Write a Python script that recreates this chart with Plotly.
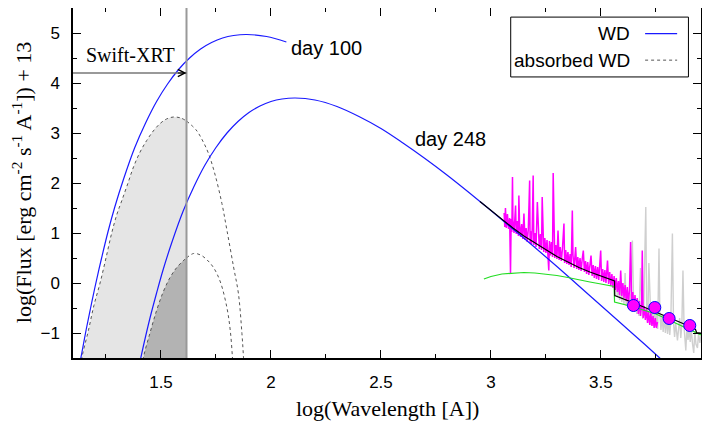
import plotly.graph_objects as go

# --- white dwarf blackbody curves (log lambda, log flux + 13) ---
wd100_x = [1.12, 1.14, 1.16, 1.18, 1.20, 1.23, 1.26, 1.29, 1.33, 1.38, 1.43, 1.48,
           1.53, 1.58, 1.63, 1.68, 1.73, 1.78, 1.83, 1.89, 1.98, 2.07]
wd100_y = [-1.85, -1.40, -0.93, -0.50, -0.08, 0.50, 1.04, 1.52, 2.08, 2.70, 3.20, 3.63,
           3.98, 4.27, 4.50, 4.68, 4.81, 4.90, 4.95, 4.97, 4.93, 4.82]

wd248_x = [1.39, 1.40, 1.42, 1.45, 1.48, 1.51, 1.55, 1.60, 1.65, 1.70, 1.75, 1.80,
           1.85, 1.90, 1.95, 2.00, 2.05, 2.11, 2.20, 2.30, 2.40, 2.50, 2.60, 2.70,
           2.80, 2.90, 3.00, 3.10, 3.20, 3.30, 3.40, 3.50, 3.60, 3.70, 3.76, 3.80]
wd248_y = [-1.87, -1.66, -1.26, -0.70, -0.20, 0.27, 0.82, 1.43, 1.93, 2.36, 2.71, 3.00,
           3.23, 3.41, 3.54, 3.63, 3.68, 3.70, 3.66, 3.53, 3.33, 3.09, 2.80, 2.49,
           2.16, 1.81, 1.45, 1.08, 0.71, 0.33, -0.06, -0.45, -0.84, -1.23, -1.47, -1.63]

# absorbed WD (dotted), split at the Swift-XRT edge for the shading
abs100_x = [1.128, 1.14, 1.17, 1.195, 1.223, 1.25, 1.276, 1.30, 1.322, 1.35, 1.375,
            1.405, 1.435, 1.465, 1.496, 1.525, 1.557, 1.59, 1.616]
abs100_y = [-1.9, -1.5, -0.95, -0.45, 0.0, 0.5, 1.0, 1.38, 1.65, 2.0, 2.32,
            2.62, 2.85, 3.04, 3.19, 3.28, 3.32, 3.30, 3.24]
abs100_tail_x = [1.616, 1.66, 1.69, 1.716, 1.745, 1.777, 1.80, 1.83, 1.852, 1.868, 1.875, 1.88]
abs100_tail_y = [3.24, 3.06, 2.84, 2.59, 2.18, 1.59, 1.05, 0.32, -0.21, -1.01, -1.48, -1.9]

abs248_x = [1.41, 1.42, 1.45, 1.48, 1.51, 1.54, 1.57, 1.60, 1.616]
abs248_y = [-1.9, -1.5, -1.0, -0.55, -0.18, 0.10, 0.30, 0.44, 0.50]
abs248_tail_x = [1.616, 1.648, 1.68, 1.71, 1.74, 1.77, 1.80, 1.815, 1.825, 1.83]
abs248_tail_y = [0.50, 0.59, 0.56, 0.46, 0.30, 0.02, -0.50, -0.95, -1.50, -1.9]

FLOOR = -1.9
XRT_EDGE = 1.616
ARROW_Y = 4.20

# --- optical model (black) and second component (green) ---
model_x = [2.95, 3.0, 3.05, 3.1, 3.15, 3.2, 3.25, 3.3, 3.35, 3.4, 3.45, 3.5, 3.562,
           3.563, 3.6, 3.65, 3.7, 3.75, 3.8, 3.85, 3.9, 3.93, 3.935, 3.955]
model_y = [1.63, 1.45, 1.27, 1.10, 0.94, 0.80, 0.66, 0.53, 0.42, 0.31, 0.22, 0.14, 0.04,
           -0.25, -0.31, -0.40, -0.49, -0.58, -0.67, -0.76, -0.86, -0.93, -0.99, -1.0]

green_x = [2.968, 3.0, 3.05, 3.1, 3.15, 3.2, 3.25, 3.3, 3.35, 3.4, 3.45, 3.5, 3.56,
           3.562, 3.6, 3.65, 3.7, 3.75, 3.8, 3.85, 3.9, 3.955]
green_y = [0.08, 0.13, 0.18, 0.20, 0.21, 0.20, 0.18, 0.15, 0.11, 0.06, 0.02, -0.02, -0.07,
           -0.38, -0.42, -0.48, -0.55, -0.62, -0.72, -0.82, -0.93, -1.04]

# --- observed spectra ---
mag_x = [3.060, 3.063, 3.066, 3.070, 3.075, 3.080, 3.085, 3.089, 3.092, 3.095, 3.098, 3.100,
         3.105, 3.110, 3.112, 3.115, 3.120, 3.125, 3.127, 3.130, 3.135, 3.140, 3.145, 3.150,
         3.152, 3.155, 3.160, 3.165, 3.170, 3.176, 3.178, 3.180, 3.185, 3.188, 3.192, 3.195,
         3.200, 3.205, 3.211, 3.215, 3.220, 3.225, 3.230, 3.233, 3.236, 3.240, 3.245, 3.250,
         3.255, 3.260, 3.263, 3.266, 3.270, 3.275, 3.280, 3.283, 3.286, 3.290, 3.295, 3.300,
         3.305, 3.310, 3.315, 3.320, 3.325, 3.332, 3.335, 3.340, 3.345, 3.350, 3.355, 3.360,
         3.365, 3.370, 3.373, 3.378, 3.385, 3.390, 3.395, 3.400, 3.405, 3.410, 3.415, 3.420,
         3.425, 3.430, 3.435, 3.440, 3.445, 3.450, 3.455, 3.460, 3.465, 3.470, 3.475, 3.480,
         3.485, 3.490, 3.495, 3.499, 3.503, 3.508, 3.513, 3.518, 3.523, 3.530, 3.535, 3.540,
         3.545, 3.550, 3.555, 3.560, 3.565, 3.570, 3.575, 3.580, 3.585, 3.590, 3.595, 3.600,
         3.605, 3.610, 3.615, 3.620, 3.625, 3.630, 3.635, 3.640, 3.645, 3.650, 3.655, 3.660,
         3.665, 3.670, 3.675, 3.680, 3.685, 3.688, 3.692, 3.697, 3.702, 3.707, 3.712, 3.717,
         3.722, 3.727, 3.732, 3.737, 3.742, 3.747, 3.752, 3.757]
mag_y = [1.40, 1.12, 1.50, 1.10, 1.38, 1.08, 1.30, 0.19, 1.28, 1.02, 2.12, 1.26,
         1.00, 1.28, 1.55, 0.98, 1.24, 0.94, 1.75, 1.20, 0.92, 1.18, 0.88, 1.39,
         1.12, 0.86, 1.10, 0.82, 1.08, 2.05, 0.80, 1.04, 0.78, 1.12, 2.15, 0.76,
         1.00, 0.72, 1.62, 0.96, 0.68, 0.98, 0.66, 1.72, 0.92, 0.62, 0.90, 0.60,
         0.86, 0.58, 0.25, 0.84, 0.55, 0.82, 0.52, 2.20, 0.78, 0.50, 0.76, 0.48,
         1.05, 0.46, 0.72, 0.44, 0.68, 1.19, 0.40, 0.66, 0.38, 0.62, 0.36, 0.58,
         0.32, 1.45, 0.56, 0.30, 0.72, 0.28, 0.52, 0.26, 0.50, 0.24, 0.48, 0.65,
         0.22, 0.44, 0.18, 0.42, 0.16, 0.40, 0.55, 0.14, 0.36, 0.10, 0.34, 0.08,
         0.32, 0.06, 0.30, 0.65, 0.04, 0.28, 0.02, 0.26, 0.00, 0.45, -0.02, 0.22,
         -0.06, 0.18, -0.10, 0.14, -0.14, 0.10, -0.18, 0.04, -0.24, 0.25, -0.26, 0.00,
         -0.30, -0.04, -0.36, -0.08, -0.40, -0.14, 0.82, -0.44, -0.18, -0.50, -0.24, -0.56,
         -0.30, -0.62, -0.36, -0.66, -0.42, 0.65, -0.70, -0.46, -0.74, -0.52, -0.80, -0.56,
         -0.84, -0.60, -0.86, -0.66, -0.90, -0.70, -0.90, -0.78]

grey_x = [3.570, 3.575, 3.580, 3.585, 3.590, 3.595, 3.600, 3.605, 3.610, 3.615, 3.620, 3.625,
          3.630, 3.635, 3.643, 3.648, 3.653, 3.658, 3.663, 3.668, 3.673, 3.680, 3.685, 3.690,
          3.695, 3.704, 3.708, 3.713, 3.718, 3.723, 3.728, 3.733, 3.738, 3.743, 3.748, 3.753,
          3.758, 3.764, 3.768, 3.773, 3.778, 3.783, 3.788, 3.793, 3.798, 3.803, 3.808, 3.813,
          3.818, 3.825, 3.830, 3.835, 3.840, 3.848, 3.853, 3.858, 3.863, 3.868, 3.873, 3.878,
          3.886, 3.891, 3.896, 3.901, 3.906, 3.911, 3.916, 3.922, 3.927, 3.932, 3.939, 3.944,
          3.950, 3.955]
grey_y = [0.00, -0.28, -0.04, -0.34, -0.08, -0.38, -0.14, -0.42, 0.20, -0.46, -0.18, -0.50,
          -0.22, -0.54, 0.85, -0.26, -0.58, -0.30, -0.62, -0.34, -0.66, 0.30, -0.40, -0.72,
          -0.44, 1.52, -0.48, -0.80, 0.40, -0.50, -0.84, -0.54, -0.86, -0.56, -0.88, -0.58,
          -0.92, 0.69, -0.62, -0.94, -0.64, -0.98, -0.66, -1.00, -0.70, -1.02, -0.72, -1.04,
          -0.74, 0.99, -0.78, -1.08, -0.80, -1.15, -0.82, -0.70, -1.10, -0.84, 0.25, -0.88,
          -1.35, -0.88, -1.14, -0.90, -1.18, -0.92, -1.20, -1.40, -0.96, -1.22, -1.30, -1.00,
          -1.20, -1.05]

phot_x = [3.648, 3.745, 3.810, 3.904]
phot_y = [-0.45, -0.49, -0.71, -0.85]

SANS = "Liberation Sans, Arial, sans-serif"
SERIF = "Liberation Serif, Times New Roman, serif"
BLUE = "#1a1aff"

fig = go.Figure()

# shaded Swift-XRT band under the absorbed curves
fig.add_trace(go.Scatter(x=[abs100_x[0], XRT_EDGE], y=[FLOOR, FLOOR], mode="lines",
                         line=dict(width=0), hoverinfo="skip", showlegend=False))
fig.add_trace(go.Scatter(x=abs100_x, y=abs100_y, mode="lines", fill="tonexty",
                         fillcolor="#e5e5e5", line=dict(width=0, shape="spline"),
                         showlegend=False))
fig.add_trace(go.Scatter(x=[abs248_x[0], XRT_EDGE], y=[FLOOR, FLOOR], mode="lines",
                         line=dict(width=0), hoverinfo="skip", showlegend=False))
fig.add_trace(go.Scatter(x=abs248_x, y=abs248_y, mode="lines", fill="tonexty",
                         fillcolor="#b3b3b3", line=dict(width=0, shape="spline"),
                         showlegend=False))

# absorbed WD dotted curves
for xs, ys in [(abs100_x, abs100_y), (abs100_tail_x, abs100_tail_y),
               (abs248_x, abs248_y), (abs248_tail_x, abs248_tail_y)]:
    fig.add_trace(go.Scatter(x=xs, y=ys, mode="lines", showlegend=False,
                             line=dict(color="#555555", width=1, dash="dot", shape="spline")))

# spectra
fig.add_trace(go.Scatter(x=grey_x, y=grey_y, mode="lines", showlegend=False,
                         line=dict(color="#cfcfcf", width=1.4)))
fig.add_trace(go.Scatter(x=mag_x, y=mag_y, mode="lines", showlegend=False,
                         line=dict(color="#ff00ff", width=1.5)))

# WD curves
fig.add_trace(go.Scatter(x=wd100_x, y=wd100_y, mode="lines", showlegend=False,
                         line=dict(color=BLUE, width=1.2, shape="spline")))
fig.add_trace(go.Scatter(x=wd248_x, y=wd248_y, mode="lines", showlegend=False,
                         line=dict(color=BLUE, width=1.2, shape="spline")))

# models
fig.add_trace(go.Scatter(x=green_x, y=green_y, mode="lines", showlegend=False,
                         line=dict(color="#22dd22", width=1.2)))
fig.add_trace(go.Scatter(x=model_x, y=model_y, mode="lines", showlegend=False,
                         line=dict(color="black", width=1.2)))

# photometry
fig.add_trace(go.Scatter(x=phot_x, y=phot_y, mode="markers", showlegend=False,
                         marker=dict(size=12, color="#ff00ff", line=dict(color="#0000ff", width=1))))

# Swift-XRT edge and arrow (grey shaft, black head)
fig.add_shape(type="line", x0=XRT_EDGE, x1=XRT_EDGE, y0=0, y1=1, xref="x", yref="paper",
              line=dict(color="#999999", width=2))
fig.add_shape(type="line", x0=1.1, x1=XRT_EDGE, y0=ARROW_Y, y1=ARROW_Y, xref="x", yref="y",
              line=dict(color="#777777", width=1.5))
fig.add_annotation(x=XRT_EDGE, y=ARROW_Y, ax=1.57, ay=ARROW_Y, axref="x", ayref="y",
                   xref="x", yref="y", text="", showarrow=True, arrowhead=5,
                   arrowsize=1.4, arrowwidth=1, arrowcolor="black", standoff=0)
fig.add_annotation(x=1.36, y=4.57, text="Swift-XRT", showarrow=False,
                   font=dict(family=SERIF, size=20, color="black"))
fig.add_annotation(x=2.083, y=4.71, text="day 100", showarrow=False, xanchor="left",
                   font=dict(family=SANS, size=20, color="black"))
fig.add_annotation(x=2.646, y=2.89, text="day 248", showarrow=False, xanchor="left",
                   font=dict(family=SANS, size=20, color="black"))

# hand-made legend (gnuplot style: text then sample)
fig.add_shape(type="rect", xref="paper", yref="paper", x0=0.697, x1=0.980, y0=0.803, y1=0.974,
              line=dict(color="black", width=1), fillcolor="white")
for label, ypos, style in [("WD", 0.927, dict(color=BLUE, width=1.2)),
                           ("absorbed WD", 0.851, dict(color="#555555", width=1, dash="dot"))]:
    fig.add_annotation(x=0.890, y=ypos, xref="paper", yref="paper", text=label, showarrow=False,
                       xanchor="right", yanchor="middle",
                       font=dict(family=SANS, size=19, color="black"))
    fig.add_shape(type="line", xref="paper", yref="paper", x0=0.911, x1=0.962, y0=ypos, y1=ypos,
                  line=style)

# axis titles
fig.add_annotation(x=0.5, y=-0.145, xref="paper", yref="paper", text="log(Wavelength [A])",
                   xanchor="center", yanchor="middle", showarrow=False,
                   font=dict(family=SERIF, size=22, color="black"))
fig.add_annotation(x=-0.081, y=0.5, xref="paper", yref="paper", textangle=-90,
                   xanchor="center", yanchor="middle",
                   text="log(Flux [erg cm<sup>-2</sup> s<sup>-1</sup> A<sup>-1</sup>]) + 13",
                   showarrow=False, font=dict(family=SERIF, size=22, color="black"))

axis_common = dict(showline=True, linecolor="black", linewidth=1.5, mirror="ticks",
                   ticks="inside", ticklen=8, tickcolor="black", tickwidth=1,
                   showgrid=False, zeroline=False, automargin=False,
                   tickfont=dict(family=SANS, size=17, color="black"))
fig.update_xaxes(range=[1.1, 3.955], tick0=1.5, dtick=0.5, ticklabelstandoff=8,
                 minor=dict(dtick=0.25, ticks="inside", ticklen=4, tickcolor="black"),
                 **axis_common)
fig.update_yaxes(range=[-1.5, 5.5], tick0=0, dtick=1, ticklabelstandoff=8,
                 minor=dict(dtick=0.5, ticks="inside", ticklen=4, tickcolor="black"),
                 **axis_common)

# the page body adds an 8px offset, so the figure is 8px smaller and margins shifted
fig.update_layout(width=702, height=413, plot_bgcolor="white", paper_bgcolor="white",
                  margin=dict(l=65, r=9, t=0, b=63, autoexpand=False), showlegend=False)

fig.write_html("out.html")
